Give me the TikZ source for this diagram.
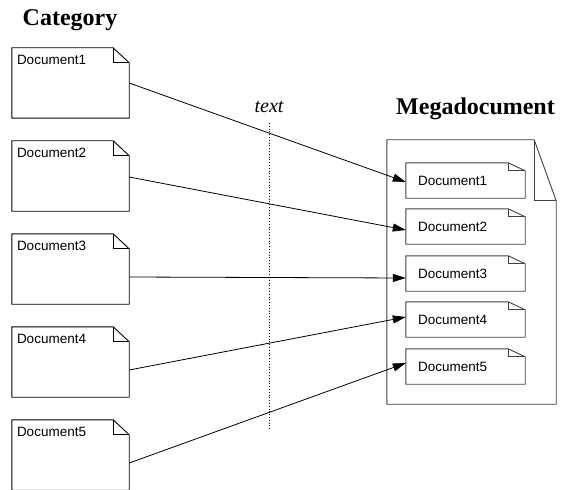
\documentclass[tikz,border=0pt]{standalone}
\usepackage{fontspec}
\setmainfont{Liberation Serif}
\newfontfamily\docfont{Liberation Sans}
\usetikzlibrary{arrows.meta,calc}
\tikzset{
 docbox/.style={minimum width=117pt, minimum height=70pt, inner sep=0pt, draw=none},
 subdoc/.style={minimum width=119pt, minimum height=35pt, inner sep=0pt, draw=none},
 megabox/.style={minimum width=169pt, minimum height=264pt, inner sep=0pt, draw=none},
 doclabel/.style={font=\docfont\fontsize{13.5}{16}\selectfont, inner sep=0pt},
 titletext/.style={font=\fontsize{24}{28}\selectfont\bfseries, inner sep=0pt},
 outline/.style={draw=black, line width=0.9pt},
 grayline/.style={draw=black!75, line width=0.9pt},
 link/.style={line width=0.8pt, -{Triangle[length=13pt,width=8pt]}},
}
\newcommand\drawdoc[4]{%
 \draw[#4] (#1.north west) -- ([xshift=-#2pt]#1.north east) -- ([yshift=-#3pt]#1.north east) -- (#1.south east) -- (#1.south west) -- cycle;
 \draw[#4] ([xshift=-#2pt]#1.north east) -- ([xshift=-#2pt,yshift=-#3pt]#1.north east) -- ([yshift=-#3pt]#1.north east);}
\begin{document}
\begin{tikzpicture}[x=1pt,y=-1pt]
\useasboundingbox (0,0) rectangle (561,489);
% titles
\node[titletext, anchor=base] (cat) at (70,26) {Category};
\node[titletext, anchor=base] (mega) at (475.5,115) {Megadocument};
\node[font=\fontsize{20}{24}\selectfont\itshape, anchor=base, inner sep=0pt] (txt) at (269,113) {text};
\coordinate (dtop) at (269,123);
\coordinate (dbot) at (269,430);
\draw[dotted, line width=0.8pt] (dtop) -- (dbot);
% left documents
\foreach \i/\y in {1/83,2/176,3/269,4/362,5/455}{
 \node[docbox] (L\i) at (70.5,\y) {};
 \drawdoc{L\i}{16}{15}{outline}
 \node[doclabel, anchor=north west] (L\i t) at ([xshift=5pt,yshift=-7pt]L\i.north west) {Document\i};
}
% megadocument
\node[megabox] (M) at (471.5,272) {};
\drawdoc{M}{22}{61}{grayline}
\foreach \i/\y in {1/180.5,2/226.5,3/273.5,4/319.5,5/366.5}{
 \node[subdoc] (S\i) at (465.5,\y) {};
 \drawdoc{S\i}{17}{8}{grayline}
 \node[doclabel, anchor=west] (S\i t) at ([xshift=12pt]S\i.west) {Document\i};
}
% links
\draw[link] (L1.east) -- ([yshift=-1.5pt]S1.west);
\draw[link] ([yshift=-1pt]L2.east) -- ([yshift=-3.5pt]S2.west);
\draw[link] ([yshift=-8pt]L3.east) -- ([yshift=-4.5pt]S3.west);
\draw[link] ([yshift=-8pt]L4.east) -- ([yshift=2.5pt]S4.west);
\draw[link] ([yshift=-8pt]L5.east) -- ([yshift=3.5pt]S5.west);
\end{tikzpicture}
\end{document}
